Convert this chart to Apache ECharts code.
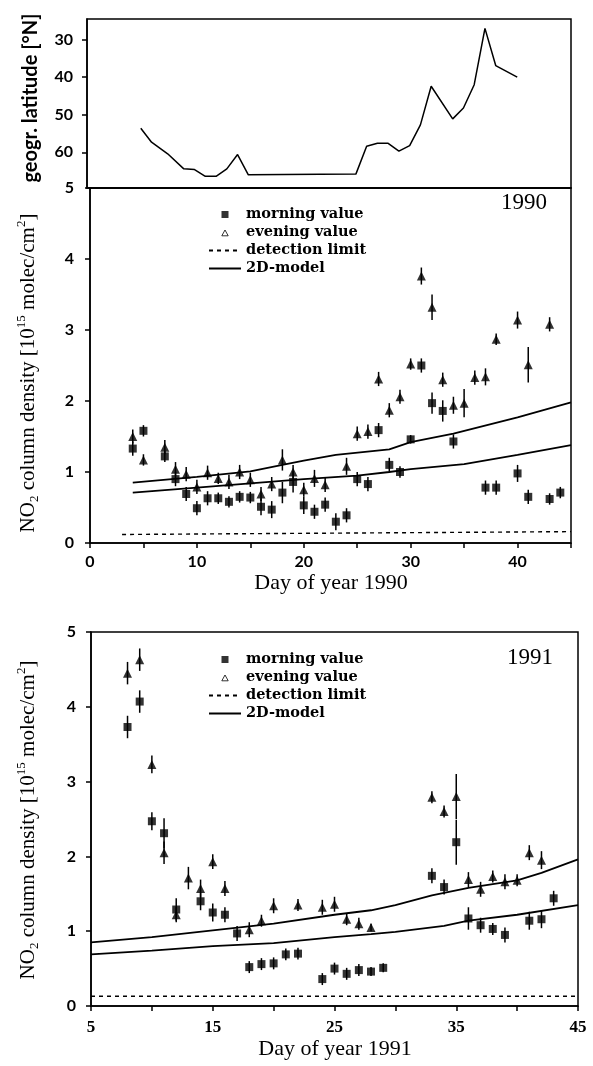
<!DOCTYPE html>
<html>
<head>
<meta charset="utf-8">
<title>NO2 column density 1990 / 1991</title>
<script src="https://cdn.jsdelivr.net/npm/echarts@6/dist/echarts.min.js"></script>
<style>
  html, body { margin: 0; padding: 0; background: #fff; }
  #chart { width: 593px; height: 1066px; }
</style>
</head>
<body>
<div id="chart"></div>
<script>
// ship track latitude, 1990
var latDays = [5, 6, 7.5, 9, 10, 11, 12, 13, 14, 15, 25, 26, 27, 28, 29, 30, 31, 32, 34, 35, 36, 37, 38, 40];
var latValues = [53.6, 57.3, 60.4, 64.4, 64.6, 66.4, 66.4, 64.4, 60.6, 66.0, 65.8, 58.4, 57.6, 57.6, 59.7, 58.2, 52.7, 42.4, 51.1, 48.2, 42.0, 27.0, 36.9, 40.0];
var latTicks = [30, 40, 50, 60];

// 1990
var mDays90 = [4, 5, 7, 8, 9, 10, 11, 12, 13, 14, 15, 16, 17, 18, 19, 20, 21, 22, 23, 24, 25, 26, 27, 28, 29, 30, 31, 32, 33, 34, 37, 38, 40, 41, 43, 44];
var mVals90 = [1.33, 1.58, 1.22, 0.90, 0.69, 0.49, 0.63, 0.63, 0.58, 0.65, 0.64, 0.51, 0.47, 0.71, 0.86, 0.53, 0.44, 0.54, 0.30, 0.39, 0.90, 0.83, 1.59, 1.10, 1.00, 1.46, 2.50, 1.97, 1.86, 1.43, 0.78, 0.78, 0.98, 0.65, 0.62, 0.71];
var mErr90 = [0.1, 0.08, 0.08, 0.1, 0.1, 0.1, 0.1, 0.08, 0.08, 0.08, 0.08, 0.12, 0.12, 0.15, 0.15, 0.12, 0.1, 0.1, 0.12, 0.1, 0.1, 0.1, 0.1, 0.1, 0.08, 0.06, 0.1, 0.15, 0.15, 0.1, 0.1, 0.1, 0.12, 0.1, 0.08, 0.08];
var eDays90 = [4, 5, 7, 8, 9, 10, 11, 12, 13, 14, 15, 16, 17, 18, 19, 20, 21, 22, 24, 25, 26, 27, 28, 29, 30, 31, 32, 33, 34, 35, 36, 37, 38, 40, 41, 43];
var eVals90 = [1.50, 1.17, 1.35, 1.04, 0.97, 0.79, 0.99, 0.91, 0.86, 1.00, 0.89, 0.69, 0.83, 1.17, 1.00, 0.75, 0.91, 0.82, 1.08, 1.54, 1.57, 2.31, 1.87, 2.06, 2.52, 3.76, 3.32, 2.30, 1.94, 1.97, 2.33, 2.34, 2.87, 3.14, 2.51, 3.08];
var eErr90 = [0.1, 0.08, 0.1, 0.1, 0.1, 0.1, 0.1, 0.08, 0.1, 0.1, 0.1, 0.1, 0.1, 0.15, 0.1, 0.1, 0.12, 0.1, 0.12, 0.1, 0.1, 0.1, 0.1, 0.1, 0.08, 0.12, 0.18, 0.1, 0.12, 0.2, 0.1, 0.12, 0.08, 0.12, 0.25, 0.1];
var modelHiDays90 = [4, 10, 15, 18, 20, 23, 28, 30, 34, 40, 45];
var modelHi90 = [0.85, 0.93, 1.01, 1.10, 1.16, 1.24, 1.32, 1.42, 1.54, 1.77, 1.98];
var modelLoDays90 = [4, 10, 15, 20, 25, 28, 30, 35, 40, 45];
var modelLo90 = [0.71, 0.78, 0.84, 0.90, 0.95, 1.00, 1.04, 1.11, 1.24, 1.38];
var detDays90 = [3, 45];
var det90 = [0.12, 0.16];

// 1991
var mDays91 = [8, 9, 10, 11, 12, 14, 15, 16, 17, 18, 19, 20, 21, 22, 24, 25, 26, 27, 28, 29, 33, 34, 35, 36, 37, 38, 39, 41, 42, 43];
var mVals91 = [3.73, 4.07, 2.47, 2.31, 1.29, 1.40, 1.25, 1.22, 0.97, 0.52, 0.56, 0.57, 0.69, 0.70, 0.36, 0.50, 0.43, 0.48, 0.46, 0.51, 1.74, 1.59, 2.19, 1.17, 1.08, 1.03, 0.95, 1.14, 1.16, 1.44];
var mErr91 = [0.15, 0.15, 0.12, 0.2, 0.15, 0.12, 0.12, 0.1, 0.1, 0.08, 0.08, 0.08, 0.08, 0.08, 0.08, 0.08, 0.08, 0.08, 0.06, 0.06, 0.1, 0.1, 0.3, 0.15, 0.1, 0.08, 0.1, 0.12, 0.12, 0.1];
var eDays91 = [8, 9, 10, 11, 12, 13, 14, 15, 16, 18, 19, 20, 22, 24, 25, 26, 27, 28, 33, 34, 35, 36, 37, 38, 39, 40, 41, 42];
var eVals91 = [4.45, 4.63, 3.23, 2.05, 1.22, 1.71, 1.57, 1.93, 1.57, 1.02, 1.14, 1.34, 1.35, 1.32, 1.36, 1.16, 1.10, 1.05, 2.79, 2.60, 2.80, 1.69, 1.56, 1.73, 1.66, 1.68, 2.05, 1.95];
var eErr91 = [0.15, 0.15, 0.12, 0.15, 0.1, 0.15, 0.12, 0.1, 0.1, 0.1, 0.08, 0.1, 0.08, 0.1, 0.1, 0.08, 0.08, 0.05, 0.08, 0.08, 0.3, 0.1, 0.1, 0.08, 0.1, 0.08, 0.1, 0.12];
var modelHiDays91 = [5, 10, 15, 20, 25, 28, 30, 33, 36, 40, 42, 45];
var modelHi91 = [0.85, 0.92, 1.01, 1.10, 1.22, 1.28, 1.35, 1.48, 1.58, 1.68, 1.78, 1.96];
var modelLoDays91 = [5, 10, 15, 20, 25, 28, 30, 34, 36, 40, 45];
var modelLo91 = [0.69, 0.74, 0.80, 0.84, 0.92, 0.96, 0.99, 1.07, 1.14, 1.22, 1.35];
var detDays91 = [5, 45];
var det91 = [0.13, 0.13];

var serif = '"Liberation Serif", "DejaVu Serif", serif';
var wideSerif = '"DejaVu Serif", "Liberation Serif", serif';
var sans = 'Lato, "Open Sans", "DejaVu Sans", sans-serif';

function pairs(xs, ys) {
  return xs.map(function (x, i) { return [x, ys[i]]; });
}
function bars(xs, ys, es) {
  return xs.map(function (x, i) { return [x, ys[i] - es[i], ys[i] + es[i]]; });
}

// vertical error bar
function errorBar(params, api) {
  var a = api.coord([api.value(0), api.value(1)]);
  var b = api.coord([api.value(0), api.value(2)]);
  return {
    type: 'line',
    shape: { x1: a[0], y1: a[1], x2: b[0], y2: b[1] },
    style: { stroke: '#000', lineWidth: 1.5 }
  };
}

function panelSeries(idx, mD, mV, mE, eD, eV, eE, hiD, hi, loD, lo, dD, d) {
  var ax = { xAxisIndex: idx, yAxisIndex: idx };
  var line = function (name, data, type) {
    return Object.assign({
      name: name, type: 'line', data: data, symbol: 'none',
      lineStyle: { color: '#000', width: type ? 1.4 : 1.8, type: type || 'solid' },
      itemStyle: { color: '#000' }
    }, ax);
  };
  return [
    line('detection limit', pairs(dD, d), [4, 4]),
    line('2D-model', pairs(hiD, hi)),
    line('2D-model', pairs(loD, lo)),
    Object.assign({ type: 'custom', renderItem: errorBar, data: bars(mD, mV, mE), encode: { x: 0, y: [1, 2] } }, ax),
    Object.assign({ type: 'custom', renderItem: errorBar, data: bars(eD, eV, eE), encode: { x: 0, y: [1, 2] } }, ax),
    Object.assign({ name: 'morning value', type: 'scatter', symbol: 'rect', symbolSize: 8,
      itemStyle: { color: '#000' }, data: pairs(mD, mV) }, ax),
    Object.assign({ name: 'evening value', type: 'scatter', symbol: 'triangle', symbolSize: 9,
      itemStyle: { color: '#000' }, data: pairs(eD, eV) }, ax)
  ];
}

// legend icons are drawn in a 32x8 box
var squareIcon = 'path://M0,0M32,8M12.5,0.5h7v7h-7z';
var triangleIcon = 'path://M0,0M32,8M16,1.5L19.2,7.3H12.8Z';

function legendAt(top) {
  return {
    left: 203, top: top, orient: 'vertical',
    itemWidth: 32, itemHeight: 8, itemGap: 3, selectedMode: false,
    textStyle: { fontFamily: wideSerif, fontWeight: 'bold', fontSize: 14.5, lineHeight: 14, color: '#000' },
    data: [
      { name: 'morning value', icon: squareIcon },
      { name: 'evening value', icon: triangleIcon, itemStyle: { color: '#fff', borderColor: '#000', borderWidth: 1 } },
      { name: 'detection limit', itemStyle: { opacity: 0 } },
      { name: '2D-model', itemStyle: { opacity: 0 } }
    ]
  };
}

var yName = '{t|NO}{sub|2}{t| column density [10}{sup|15}{t| molec/cm}{sup|2}{t|]}';
var yNameRich = {
  t: { fontFamily: serif, fontSize: 21, lineHeight: 26, verticalAlign: 'middle' },
  sub: { fontFamily: serif, fontSize: 13, lineHeight: 14, verticalAlign: 'bottom' },
  sup: { fontFamily: serif, fontSize: 13, lineHeight: 14, verticalAlign: 'top' }
};

var axisLine = { show: true, lineStyle: { color: '#000', width: 1.5 } };
var tick = { show: true, length: 5, lineStyle: { color: '#000', width: 1.5 } };

var myChart = echarts.init(document.getElementById('chart'));
var option = {
  backgroundColor: '#fff',
  animation: false,
  grid: [
    { left: 87, width: 484, top: 19, height: 169, show: true, borderColor: '#000', borderWidth: 1.5 },
    { left: 90, width: 481, top: 188, height: 355, show: true, borderColor: '#000', borderWidth: 1.5 },
    { left: 91, width: 487, top: 632, height: 374, show: true, borderColor: '#000', borderWidth: 1.5 }
  ],
  legend: [legendAt(202), legendAt(647)],
  xAxis: [
    { gridIndex: 0, type: 'value', min: 0, max: 45, axisLine: axisLine,
      axisTick: { show: false }, axisLabel: { show: false }, splitLine: { show: false } },
    { gridIndex: 1, type: 'value', min: 0, max: 45, interval: 5, axisLine: axisLine, axisTick: tick,
      axisLabel: { margin: 11, color: '#000', fontFamily: sans, fontWeight: 'bold', fontSize: 16,
        formatter: function (v) { return v % 10 === 0 ? String(v) : ''; } },
      splitLine: { show: false } },
    { gridIndex: 2, type: 'value', min: 5, max: 45, interval: 5, axisLine: axisLine, axisTick: tick,
      axisLabel: { margin: 13, color: '#000', fontFamily: serif, fontWeight: 'bold', fontSize: 17,
        formatter: function (v) { return (v - 5) % 10 === 0 ? String(v) : ''; } },
      splitLine: { show: false } }
  ],
  yAxis: [
    { gridIndex: 0, type: 'value', min: 24.5, max: 69.5, inverse: true, axisLine: axisLine,
      axisTick: Object.assign({ customValues: latTicks }, tick),
      axisLabel: { customValues: latTicks, margin: 14, color: '#000', fontFamily: sans, fontWeight: 'bold', fontSize: 16 },
      splitLine: { show: false } },
    { gridIndex: 1, type: 'value', min: 0, max: 5, interval: 1, axisLine: axisLine, axisTick: tick,
      axisLabel: { margin: 16, color: '#000', fontFamily: sans, fontWeight: 'bold', fontSize: 16 },
      splitLine: { show: false } },
    { gridIndex: 2, type: 'value', min: 0, max: 5, interval: 1, axisLine: axisLine, axisTick: tick,
      axisLabel: { margin: 15, color: '#000', fontFamily: sans, fontWeight: 'bold', fontSize: 16 },
      splitLine: { show: false } }
  ],
  graphic: [
    { type: 'text', x: 31, y: 98, rotation: Math.PI / 2,
      style: { text: 'geogr. latitude [°N]', fontFamily: sans, fontWeight: 'bold', fontSize: 20,
        fill: '#000', align: 'center', verticalAlign: 'middle' } },
    { type: 'text', x: 28, y: 373, rotation: Math.PI / 2,
      style: { text: yName, rich: yNameRich, fill: '#000', align: 'center', verticalAlign: 'middle' } },
    { type: 'text', x: 28, y: 820, rotation: Math.PI / 2,
      style: { text: yName, rich: yNameRich, fill: '#000', align: 'center', verticalAlign: 'middle' } },
    { type: 'text', x: 331, y: 583,
      style: { text: 'Day of year 1990', fontFamily: serif, fontSize: 22, fill: '#000', align: 'center', verticalAlign: 'middle' } },
    { type: 'text', x: 335, y: 1049,
      style: { text: 'Day of year 1991', fontFamily: serif, fontSize: 22, fill: '#000', align: 'center', verticalAlign: 'middle' } },
    { type: 'text', x: 524, y: 203,
      style: { text: '1990', fontFamily: serif, fontSize: 23, fill: '#000', align: 'center', verticalAlign: 'middle' } },
    { type: 'text', x: 530, y: 658,
      style: { text: '1991', fontFamily: serif, fontSize: 23, fill: '#000', align: 'center', verticalAlign: 'middle' } }
  ],
  series: [
    { type: 'line', xAxisIndex: 0, yAxisIndex: 0, data: pairs(latDays, latValues), symbol: 'none',
      lineStyle: { color: '#000', width: 1.5 } }
  ]
    .concat(panelSeries(1, mDays90, mVals90, mErr90, eDays90, eVals90, eErr90,
      modelHiDays90, modelHi90, modelLoDays90, modelLo90, detDays90, det90))
    .concat(panelSeries(2, mDays91, mVals91, mErr91, eDays91, eVals91, eErr91,
      modelHiDays91, modelHi91, modelLoDays91, modelLo91, detDays91, det91))
};
myChart.setOption(option);
window.addEventListener('resize', function () {
  myChart.resize();
});
</script>
</body>
</html>
